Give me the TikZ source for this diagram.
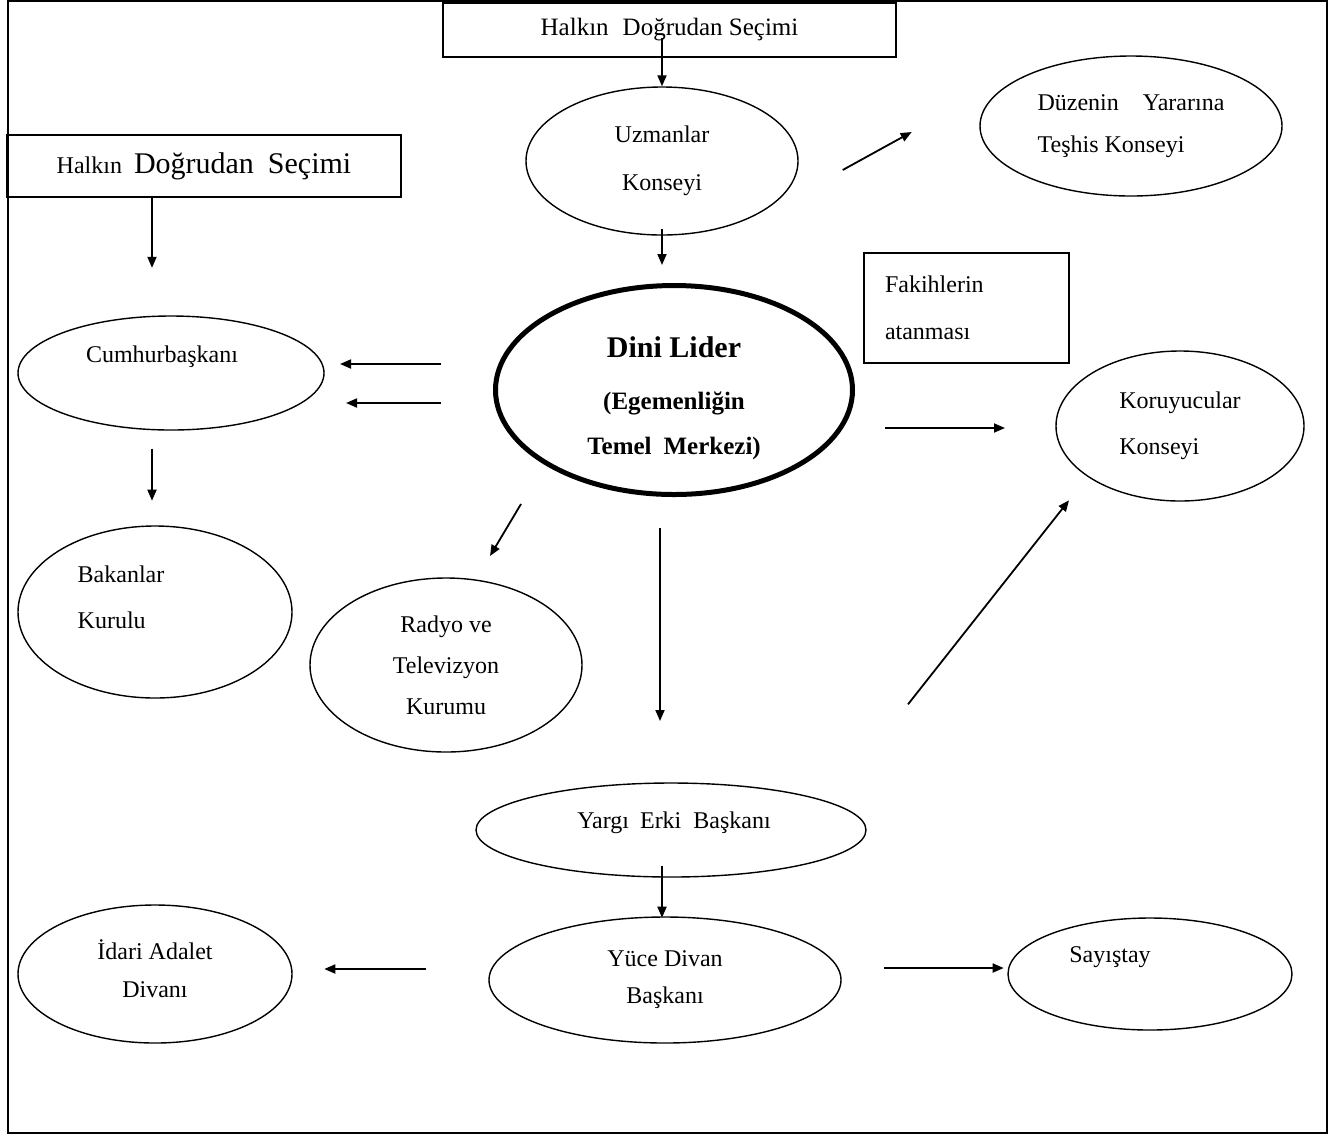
\documentclass[tikz,border=0pt]{standalone}
\usepackage{fontspec}
\setmainfont{Liberation Serif}
\usetikzlibrary{shapes.geometric, arrows.meta}
\tikzset{
  % Box styles
  votebox/.style={rectangle, draw, line width=0.8pt, inner sep=0pt, font=\fontsize{12.5}{15}\selectfont, align=center},
  notebox/.style={rectangle, draw, line width=0.8pt, inner sep=0pt, font=\fontsize{12}{23.5}\selectfont, align=left},
  % Ellipse styles
  bodynode/.style={ellipse, draw, line width=0.7pt, inner sep=0pt, font=\fontsize{12}{23}\selectfont, align=center},
  leadernode/.style={ellipse, draw, line width=2.5pt, inner sep=0pt},
  leaderlabel/.style={font=\bfseries\fontsize{12.5}{22.5}\selectfont, align=center, inner sep=0pt},
  bodylabel/.style={font=\fontsize{12}{23}\selectfont, align=left, inner sep=0pt},
  % Arrow styles
  arrow/.style={-{Triangle[length=5.5pt, width=4.5pt]}, line width=0.9pt}
}
\begin{document}
\begin{tikzpicture}[x=0.5pt, y=-0.5pt]
  \useasboundingbox (0,0) rectangle (1333,1137);
  % Outer frame
  \draw[line width=1pt] (8,1) rectangle (1327,1133);

  % Elections
  \node[votebox, minimum width=226.5pt, minimum height=27pt] (topvote) at (669.5,30) {Halkın\hspace{7pt}Doğrudan Seçimi};
  \node[votebox, minimum width=197pt, minimum height=31pt, font=\fontsize{12}{15}\selectfont] (leftvote) at (204,166) {Halkın\hspace{6pt}{\fontsize{15}{18}\selectfont Doğrudan\hspace{7pt}Seçimi}};

  % Upper councils
  \node[bodynode, minimum width=136pt, minimum height=74pt] (uzman) at (662,161) {Uzmanlar\\[1pt]Konseyi};
  \node[bodynode, minimum width=151pt, minimum height=70pt, align=left, font=\fontsize{12}{21}\selectfont] (duzen) at (1131,126) {Düzenin\hspace{12pt}Yararına\\Teşhis Konseyi};
  \node[notebox, minimum width=102.5pt, minimum height=55pt, text width=81.5pt] (fakih) at (966.5,308) {Fakihlerin\\atanması};
  \node[bodynode, minimum width=124pt, minimum height=75pt, align=left] (koru) at (1180,426) {Koruyucular\\Konseyi};

  % Leader
  \node[leadernode, minimum width=178.5pt, minimum height=104.5pt, label={[leaderlabel, yshift=-4pt]center:{{\fontsize{15}{18}\selectfont Dini Lider}\\[3.5pt](Egemenliğin\\Temel\hspace{6pt}Merkezi)}}] (dini) at (674,390) {};

  % Executive
  \node[bodynode, minimum width=153pt, minimum height=57pt, label={[bodylabel, xshift=-4.5pt, yshift=8pt]center:Cumhurbaşkanı}] (cumhur) at (171,373) {};
  \node[bodynode, minimum width=137pt, minimum height=86pt, label={[bodylabel, xshift=-17pt, yshift=7.5pt]center:{Bakanlar\\Kurulu}}] (bakan) at (155,612) {};
  \node[bodynode, minimum width=136pt, minimum height=87pt, font=\fontsize{12}{20.5}\selectfont] (radyo) at (446,665) {Radyo ve\\Televizyon\\Kurumu};

  % Judiciary
  \node[bodynode, minimum width=195pt, minimum height=47pt, label={[bodylabel, xshift=1.5pt, yshift=3.5pt]center:{Yargı\hspace{5.5pt}Erki\hspace{6pt}Başkanı}}] (yargi) at (671,830) {};
  \node[bodynode, minimum width=176pt, minimum height=63pt, font=\fontsize{12}{18.5}\selectfont] (yuce) at (665,980) {Yüce Divan\\Başkanı};
  \node[bodynode, minimum width=137pt, minimum height=69pt, font=\fontsize{12}{19}\selectfont, label={[bodylabel, align=center, yshift=2.5pt, font=\fontsize{12}{19}\selectfont]center:{İdari Adalet\\Divanı}}] (idari) at (155,974) {};
  \node[bodynode, minimum width=142pt, minimum height=56pt, label={[bodylabel, xshift=-20pt, yshift=8.5pt]center:Sayıştay}] (sayis) at (1150,974) {};

  \draw[arrow, shorten <=4pt] (topvote.center -| uzman.north) -- (uzman.north);
  \draw[arrow, shorten <=-3.5pt, shorten >=9pt] (uzman.south) -- (uzman.south |- dini.north);
  \draw[arrow] (uzman.east) ++(44,9) -- ++(69,-38);
  \draw[arrow] (leftvote.south) ++(-52,0) -- ++(0,70);
  \draw[arrow] (dini.west) ++(-52,-26) -- ++(-101,0);
  \draw[arrow] (dini.west) ++(-52,13) -- ++(-95,0);
  \draw[arrow] (cumhur.south) ++(-19,18) -- ++(0,52);
  \draw[arrow] (dini.south) ++(-153,7) -- ++(-31,52);
  \draw[arrow] (dini.south) ++(-14,31) -- ++(0,193);
  \draw[arrow] (dini.east) ++(30,38) -- ++(120,0);
  \draw[arrow] (yargi.north) ++(237,-78) -- ++(161,-204);
  \draw[arrow] (yargi.south) ++(-9,-12) -- ++(0,52);
  \draw[arrow] (yuce.west) ++(-62,-11) -- ++(-102,0);
  \draw[arrow] (yuce.east) ++(42,-12) -- ++(120,0);
\end{tikzpicture}
\end{document}
